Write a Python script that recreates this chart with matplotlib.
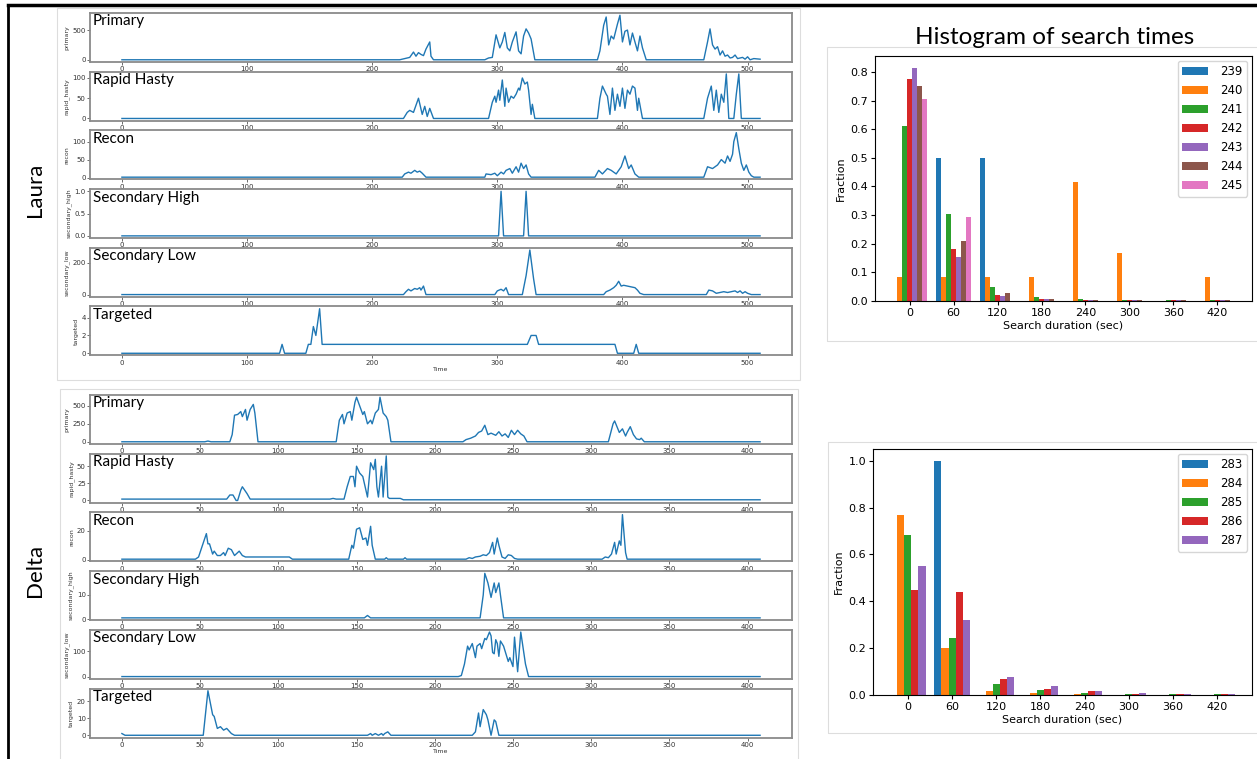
import numpy as np
import matplotlib.pyplot as plt
from matplotlib.lines import Line2D
from matplotlib.patches import Rectangle

W, H = 1257, 759

panel_titles = ['Primary', 'Rapid Hasty', 'Recon', 'Secondary High', 'Secondary Low', 'Targeted']
panel_ylabels = ['primary', 'rapid_hasty', 'recon', 'secondary_high', 'secondary_low', 'targeted']

# ---- Laura time series (time, value) ----
laura_primary_t = [0, 222, 226, 230, 233, 235, 237, 239, 241, 243, 246, 247, 249, 290, 293, 296, 299, 302, 304,
                   306, 308, 310, 312, 315, 317, 319, 321, 323, 325, 327, 330, 380, 382, 385, 387, 389, 391, 393,
                   396, 398, 400, 402, 404, 406, 408, 410, 412, 414, 416, 419, 465, 468, 470, 472, 474, 476, 478,
                   480, 482, 484, 486, 488, 490, 492, 494, 496, 498, 500, 502, 505, 510]
laura_primary_v = [0, 0, 20, 40, 130, 60, 120, 90, 70, 180, 300, 60, 0, 0, 30, 40, 420, 200, 300,
                   460, 200, 150, 300, 470, 150, 100, 400, 520, 450, 350, 0, 0, 150, 580, 720, 250, 400, 350,
                   600, 750, 300, 480, 500, 250, 450, 300, 150, 400, 200, 0, 0, 300, 520, 250, 180, 220, 80,
                   150, 60, 80, 30, 40, 80, 20, 30, 40, 10, 50, 0, 20, 10]

laura_rapid_t = [0, 225, 228, 230, 233, 237, 240, 242, 244, 246, 249, 293, 296, 298, 299, 301, 302, 304, 306,
                 307, 309, 311, 313, 315, 317, 318, 320, 322, 324, 325, 327, 328, 330, 380, 382, 384, 387, 388,
                 390, 392, 394, 396, 398, 400, 402, 404, 406, 408, 410, 412, 413, 416, 465, 468, 471, 473, 475,
                 477, 479, 481, 483, 485, 489, 491, 493, 495, 510]
laura_rapid_v = [0, 0, 15, 20, 15, 50, 10, 30, 5, 25, 0, 0, 40, 55, 40, 70, 45, 95, 30,
                 75, 40, 55, 50, 60, 75, 70, 100, 85, 90, 70, 10, 35, 0, 0, 50, 80, 60, 55,
                 10, 75, 20, 60, 30, 75, 25, 70, 60, 80, 75, 20, 50, 0, 0, 50, 80, 20, 70,
                 15, 60, 40, 110, 0, 0, 60, 110, 0, 0]

laura_recon_t = [0, 224, 226, 229, 231, 234, 236, 238, 240, 243, 290, 291, 295, 298, 300, 303, 305, 307, 310,
                 312, 315, 317, 319, 321, 323, 325, 327, 378, 381, 384, 388, 391, 395, 399, 402, 405, 407, 410,
                 413, 465, 468, 472, 476, 479, 482, 484, 486, 488, 489, 491, 493, 495, 497, 499, 501, 503, 505, 510]
laura_recon_v = [1, 1, 10, 15, 12, 20, 15, 18, 12, 1, 1, 10, 8, 12, 5, 15, 10, 20, 25,
                 12, 30, 15, 40, 25, 35, 10, 1, 1, 20, 10, 25, 20, 10, 30, 60, 25, 35, 10,
                 1, 1, 30, 25, 35, 50, 40, 60, 45, 65, 100, 125, 80, 40, 20, 35, 15, 5, 1, 1]

laura_sechigh_t = [0, 301, 303, 305, 321, 323, 325, 510]
laura_sechigh_v = [0, 0, 1.0, 0, 0, 1.0, 0, 0]

laura_seclow_t = [0, 225, 227, 229, 231, 234, 236, 238, 239, 241, 243, 298, 300, 303, 305, 307, 309, 320, 323,
                  326, 329, 331, 385, 387, 390, 393, 395, 397, 399, 401, 404, 407, 410, 412, 414, 417, 467, 469,
                  472, 475, 478, 481, 484, 487, 490, 492, 494, 496, 498, 500, 503, 510]
laura_seclow_v = [2, 2, 20, 35, 25, 40, 35, 45, 30, 55, 2, 2, 25, 35, 25, 45, 2, 2, 120,
                  280, 100, 2, 2, 20, 30, 45, 60, 85, 55, 60, 55, 50, 45, 30, 10, 2, 2, 30,
                  25, 10, 15, 20, 15, 20, 25, 15, 25, 10, 20, 10, 2, 2]

laura_targeted_t = [0, 126, 128, 130, 147, 149, 151, 153, 155, 158, 160, 324, 327, 331, 333, 394, 396, 409,
                    411, 413, 510]
laura_targeted_v = [0, 0, 1, 0, 0, 1, 1, 3, 2, 5, 1, 1, 2, 2, 1, 1, 0, 0,
                    1, 0, 0]

# ---- Delta time series (time, value) ----
delta_primary_t = [0, 53, 55, 57, 69, 70.5, 72, 74, 76, 77, 79, 80, 82, 84, 85, 87, 137, 139, 141, 142, 144,
                   146, 147, 149, 150, 152, 154, 155, 157, 159, 160, 162, 164, 165, 167, 169, 170, 172, 218,
                   220, 223, 226, 228, 230, 232, 234, 236, 239, 241, 243, 245, 247, 249, 251, 253, 255, 257,
                   259, 311, 314, 315, 318, 320, 322, 323, 325, 327, 329, 331, 332, 334, 408]
delta_primary_v = [0, 0, 10, 0, 0, 100, 370, 380, 420, 350, 450, 300, 450, 520, 400, 0, 0, 300, 380, 250, 400,
                   420, 300, 550, 620, 500, 380, 420, 250, 300, 250, 400, 450, 620, 400, 350, 300, 0, 0,
                   30, 50, 80, 130, 150, 230, 100, 120, 90, 140, 80, 110, 60, 160, 100, 160, 110, 80,
                   0, 0, 250, 290, 130, 180, 80, 130, 210, 100, 40, 30, 50, 0, 0]

delta_rapid_t = [0, 67, 69, 71, 73, 74, 76, 77, 80, 82, 133, 135, 137, 142, 144, 146, 148, 149, 150, 152,
                 154, 155, 157, 159, 161, 162, 163, 164, 166, 167, 169, 170, 171, 178, 180, 408]
delta_rapid_v = [2, 2, 8, 8, 0, 0, 15, 20, 10, 2, 2, 3, 2, 2, 20, 35, 35, 20, 50, 40,
                 35, 25, 5, 55, 45, 60, 20, 5, 50, 5, 65, 5, 3, 3, 1, 1]

delta_recon_t = [0, 47, 49, 54, 55, 56, 58, 59, 61, 63, 65, 66, 68, 70, 72, 75, 77, 79, 107, 109, 145, 147,
                 148, 150, 152, 154, 156, 157, 159, 160, 162, 168, 169, 170, 180, 181, 182, 220, 222, 224,
                 226, 229, 231, 233, 235, 237, 238, 240, 241, 243, 245, 247, 249, 251, 253, 307, 309, 311,
                 313, 315, 316, 318, 319, 320, 322, 323, 408]
delta_recon_v = [0.5, 0.5, 2, 18, 11, 11, 4, 6, 3, 3, 5, 3, 8, 7, 3, 6, 3, 2, 2, 0.5, 0.5, 10,
                 8, 21, 22, 14, 15, 10, 23, 10, 0.5, 0.5, 1.5, 0.5, 0.5, 1.5, 0.5, 0.5, 1.5, 1,
                 2, 2.5, 3.5, 3, 5, 12, 4, 15, 10, 2, 1, 3.5, 3, 1, 0.5, 0.5, 2, 1.5,
                 4, 12, 4, 13, 10, 31, 5, 0.5, 0.5]

delta_sechigh_t = [0, 155, 157, 159, 229, 231, 232, 234, 236, 238, 239, 241, 242, 244, 408]
delta_sechigh_v = [0.5, 0.5, 1.5, 0.5, 0.5, 10, 19, 15, 9, 15, 11, 15, 10, 0.5, 0.5]

delta_seclow_t = [0, 215, 217, 219, 221, 222, 224, 226, 227, 229, 230, 232, 233, 235, 236, 237, 238, 239,
                  240, 241, 242, 244, 245, 247, 248, 250, 251, 253, 255, 258, 260, 408]
delta_seclow_v = [1, 1, 5, 50, 120, 105, 130, 75, 120, 130, 110, 150, 145, 175, 160, 95, 90, 145,
                  130, 80, 140, 120, 100, 60, 75, 40, 155, 20, 175, 50, 1, 1]

delta_targeted_t = [0, 2, 52, 55, 58, 59, 61, 63, 65, 67, 69, 70, 72, 157, 159, 160, 162, 164, 166, 167, 168,
                    170, 172, 224, 226, 228, 229, 231, 233, 234, 236, 238, 239, 241, 408]
delta_targeted_v = [1, 0, 0, 26, 12, 11, 4, 5, 3, 4, 2, 1, 0, 0, 1, 0, 1, 0, 1, 0, 1,
                    2, 0, 0, 2, 13, 5, 15, 12, 9, 0, 9, 8, 0, 0]

laura_yticks = [[0, 500], [0, 50, 100], [0, 50, 100], [0.0, 0.5, 1.0], [0, 200], [0, 2, 4]]
delta_yticks = [[0, 250, 500], [0, 25, 50], [0, 20], [0, 10], [0, 100], [0, 10, 20]]

# ---- histogram fractions per bin ----
hist_bins = [0, 60, 120, 180, 240, 300, 360, 420]
laura_ids = ['239', '240', '241', '242', '243', '244', '245']
frac_239 = [0, 0.5, 0.5, 0, 0, 0, 0, 0]
frac_240 = [0.083, 0.083, 0.083, 0.083, 0.417, 0.167, 0, 0.083]
frac_241 = [0.61, 0.305, 0.05, 0.015, 0.007, 0.003, 0.003, 0.003]
frac_242 = [0.775, 0.183, 0.022, 0.007, 0.003, 0.003, 0.003, 0.003]
frac_243 = [0.815, 0.153, 0.018, 0.007, 0.003, 0.002, 0.003, 0.003]
frac_244 = [0.75, 0.21, 0.027, 0.007, 0.003, 0.002, 0.002, 0.002]
frac_245 = [0.707, 0.293, 0, 0, 0, 0, 0, 0]

delta_ids = ['283', '284', '285', '286', '287']
frac_283 = [0, 1.0, 0, 0, 0, 0, 0, 0]
frac_284 = [0.77, 0.20, 0.015, 0.008, 0.004, 0, 0, 0]
frac_285 = [0.685, 0.245, 0.045, 0.02, 0.01, 0.004, 0.004, 0.004]
frac_286 = [0.45, 0.44, 0.068, 0.025, 0.015, 0.004, 0.003, 0.003]
frac_287 = [0.55, 0.32, 0.078, 0.04, 0.015, 0.008, 0.003, 0.003]

fig = plt.figure(figsize=(W / 100, H / 100), dpi=100)


def px_axes(l, t, r, b):
    return fig.add_axes([l / W, 1 - b / H, (r - l) / W, (b - t) / H])


def frame(l, t, r, b, color='#dddddd', lw=0.8):
    fig.add_artist(Rectangle((l / W, 1 - b / H), (r - l) / W, (b - t) / H, transform=fig.transFigure,
                             fill=False, edgecolor=color, lw=lw))


# outer black border and panel frames
fig.add_artist(Line2D([8 / W, 1], [1 - 5 / H, 1 - 5 / H], transform=fig.transFigure, color='black', lw=2.5))
fig.add_artist(Line2D([8 / W, 8 / W], [0, 1 - 5 / H], transform=fig.transFigure, color='black', lw=2))
frame(57, 8, 800, 380)
frame(60, 389, 798, 762)
frame(827, 47, 1262, 341)
frame(828, 442, 1262, 733)


def draw_block(series, yticks, top0, xticks, xmax):
    for k, (t, v) in enumerate(series):
        top = top0 + 58.7 * k
        ax = px_axes(90, top, 792, top + 49)
        ax.plot(t, v, color='#1f77b4', lw=1.0)
        ax.set_xlim(-0.05 * xmax, 1.05 * xmax)
        ax.set_xticks(xticks)
        ax.set_yticks(yticks[k])
        ax.tick_params(labelsize=5, length=2, width=0.5, pad=1, colors='#333333')
        for s in ax.spines.values():
            s.set_color('#8a8a8a')
            s.set_linewidth(1.3)
        ax.set_ylabel(panel_ylabels[k], fontsize=4.5, labelpad=2, color='#333333')
        ax.text(0.004, 0.97, panel_titles[k], transform=ax.transAxes, va='top', ha='left',
                fontsize=11, family='Lato')
        if k == 5:
            ax.set_xlabel('Time', fontsize=4.5, labelpad=1, color='#333333')


laura_series = [(laura_primary_t, laura_primary_v), (laura_rapid_t, laura_rapid_v),
                (laura_recon_t, laura_recon_v), (laura_sechigh_t, laura_sechigh_v),
                (laura_seclow_t, laura_seclow_v), (laura_targeted_t, laura_targeted_v)]
delta_series = [(delta_primary_t, delta_primary_v), (delta_rapid_t, delta_rapid_v),
                (delta_recon_t, delta_recon_v), (delta_sechigh_t, delta_sechigh_v),
                (delta_seclow_t, delta_seclow_v), (delta_targeted_t, delta_targeted_v)]

draw_block(laura_series, laura_yticks, 13, range(0, 501, 100), 510)
draw_block(delta_series, delta_yticks, 395, range(0, 401, 50), 408)

fig.text(35 / W, 1 - 190 / H, 'Laura', rotation=90, ha='center', va='center', fontsize=16, family='Lato')
fig.text(35 / W, 1 - 570 / H, 'Delta', rotation=90, ha='center', va='center', fontsize=16, family='Lato')

fig.text(1055 / W, 1 - 37 / H, 'Histogram of search times', ha='center', va='center', fontsize=17.5,
         family='Lato')


def draw_hist(ax, ids, fracs):
    n = len(ids)
    w = 60 * 0.8 / n
    x = np.array(hist_bins, dtype=float)
    for i, (lab, f) in enumerate(zip(ids, fracs)):
        ax.bar(x - 24 + w * (i + 0.5), f, width=w, color='C%d' % i, label=lab)
    ax.set_xticks(hist_bins)
    ax.set_xlabel('Search duration (sec)', fontsize=8, labelpad=2)
    ax.set_ylabel('Fraction', fontsize=8, labelpad=3)
    ax.tick_params(labelsize=8, length=3, pad=2)
    ax.legend(loc='upper right', fontsize=8.5, handlelength=2.2, handletextpad=1.0, labelspacing=0.5,
              borderaxespad=0.4)


ax1 = px_axes(875, 56, 1252, 301)
draw_hist(ax1, laura_ids, [frac_239, frac_240, frac_241, frac_242, frac_243, frac_244, frac_245])
ax2 = px_axes(873, 449, 1252, 695)
draw_hist(ax2, delta_ids, [frac_283, frac_284, frac_285, frac_286, frac_287])

fig.savefig('out.png', dpi=100)
